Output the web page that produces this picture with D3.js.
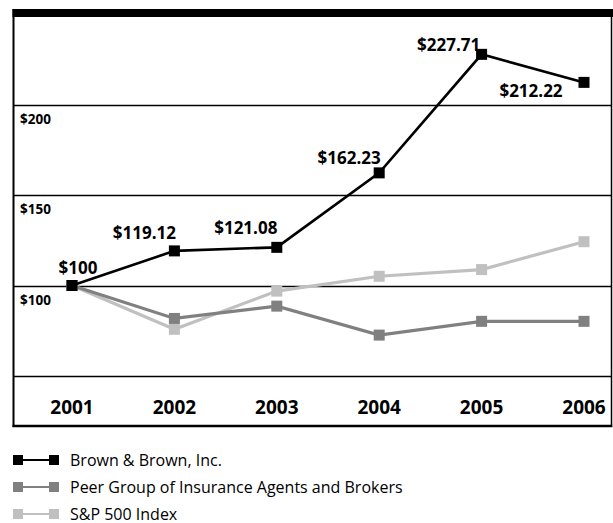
<!DOCTYPE html>
<html>
<head>
<meta charset="utf-8">
<script src="https://cdn.jsdelivr.net/npm/d3@7"></script>
<style>
  html, body { margin: 0; padding: 0; background: #fff; }
  svg { display: block; }
  text { font-family: "Open Sans", "Noto Sans", sans-serif; }
</style>
</head>
<body>
<svg id="chart" width="613" height="523"></svg>
<script>
// ---- data ----
const years = ["2001", "2002", "2003", "2004", "2005", "2006"];
const brown = [100, 119.12, 121.08, 162.23, 227.71, 212.22];
const peer  = [100, 81.8, 88.6, 72.6, 80.2, 80.2];
const sp500 = [100, 75.8, 96.9, 105.1, 108.8, 124.2];
const yTicks = [50, 100, 150, 200];
const yTickLabels = ["", "$100", "$150", "$200"];
const brownLabels = ["$100", "$119.12", "$121.08", "$162.23", "$227.71", "$212.22"];
const seriesNames = ["Brown & Brown, Inc.", "Peer Group of Insurance Agents and Brokers", "S&P 500 Index"];

// label placement (offsets from marker)
const labelOffsets = [[6, -12], [-30, -12], [-31, -13], [-30, -9], [-33, -3], [-53, 15]];

const svg = d3.select("#chart");
const left = 13.5, right = 611.5, bottom = 426;

const x = d3.scalePoint().domain(years).range([72, 584]);
const y = d3.scaleLinear().domain([50, 250]).range([376, 14]);

// gridlines
svg.append("g").selectAll("line").data(yTicks).join("line")
  .attr("x1", left).attr("x2", right)
  .attr("y1", d => Math.round(y(d)) + 0.5).attr("y2", d => Math.round(y(d)) + 0.5)
  .attr("stroke", "#000").attr("stroke-width", 1.3);

// y labels (below gridline)
svg.append("g").selectAll("text").data(yTicks).join("text")
  .attr("x", 20).attr("y", d => y(d) + 19)
  .attr("font-size", 13.5).attr("font-weight", 700)
  .text((d, i) => yTickLabels[i]);

// frame
svg.append("line").attr("x1", left).attr("x2", left).attr("y1", 9).attr("y2", bottom + 1)
  .attr("stroke", "#000").attr("stroke-width", 2);
svg.append("line").attr("x1", right).attr("x2", right).attr("y1", 9).attr("y2", bottom + 1)
  .attr("stroke", "#000").attr("stroke-width", 1.5);
svg.append("line").attr("x1", left - 1).attr("x2", 613).attr("y1", y(250) - 1).attr("y2", y(250) - 1)
  .attr("stroke", "#000").attr("stroke-width", 8);
svg.append("line").attr("x1", left - 1).attr("x2", right + 0.75).attr("y1", bottom).attr("y2", bottom)
  .attr("stroke", "#000").attr("stroke-width", 2.5);

// x axis labels
svg.append("g").selectAll("text").data(years).join("text")
  .attr("x", d => x(d)).attr("y", 414)
  .attr("text-anchor", "middle").attr("font-size", 19).attr("font-weight", 700)
  .text(d => d);

const series = [
  { values: sp500, color: "#c0c0c0", width: 3.2 },
  { values: peer, color: "#808080", width: 3.2 },
  { values: brown, color: "#000000", width: 2.6 }
];
const line = d3.line().x((d, i) => x(years[i])).y(d => y(d));
const ms = 11;
series.forEach(s => {
  svg.append("path").datum(s.values).attr("d", line)
    .attr("fill", "none").attr("stroke", s.color).attr("stroke-width", s.width);
  svg.append("g").selectAll("rect").data(s.values).join("rect")
    .attr("x", (d, i) => x(years[i]) - ms / 2).attr("y", d => y(d) - ms / 2)
    .attr("width", ms).attr("height", ms).attr("fill", s.color);
});

// value labels
svg.append("g").selectAll("text").data(brown).join("text")
  .attr("x", (d, i) => x(years[i]) + labelOffsets[i][0])
  .attr("y", (d, i) => y(d) + labelOffsets[i][1])
  .attr("text-anchor", "middle").attr("font-size", 17).attr("font-weight", 700)
  .text((d, i) => brownLabels[i]);

// legend
const legendColors = ["#000000", "#808080", "#c0c0c0"];
const lg = svg.append("g").selectAll("g").data(seriesNames).join("g")
  .attr("transform", (d, i) => `translate(0, ${460 + i * 27})`);
lg.append("rect").attr("x", 13).attr("y", -5).attr("width", 10).attr("height", 10).attr("fill", (d, i) => legendColors[i]);
lg.append("rect").attr("x", 49).attr("y", -5).attr("width", 10).attr("height", 10).attr("fill", (d, i) => legendColors[i]);
lg.append("line").attr("x1", 20).attr("x2", 52).attr("y1", 0).attr("y2", 0)
  .attr("stroke", (d, i) => legendColors[i]).attr("stroke-width", 2);
lg.append("text").attr("x", 70).attr("y", 5.5).attr("font-size", 16)
  .text(d => d);
</script>
</body>
</html>
